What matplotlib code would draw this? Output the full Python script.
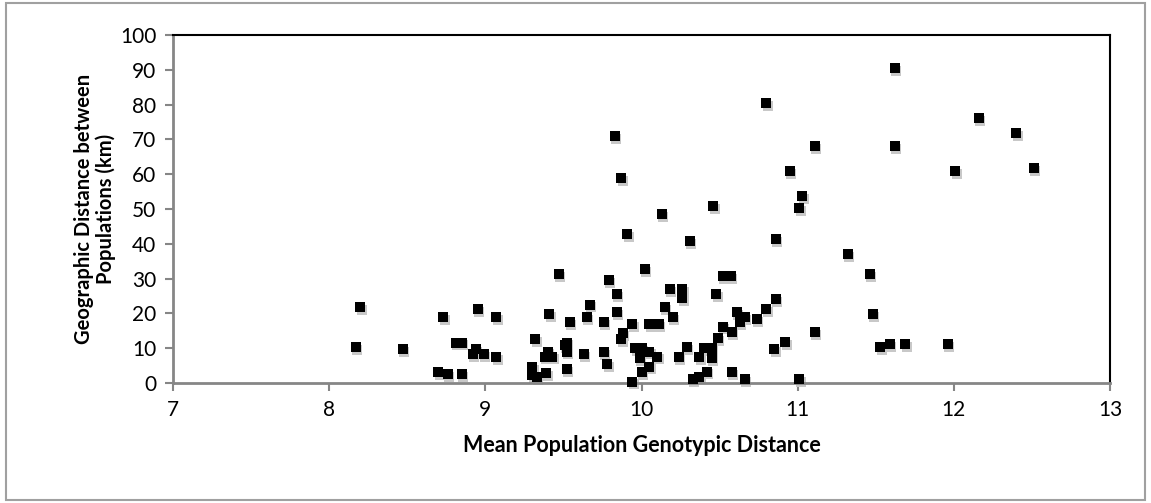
import matplotlib.pyplot as plt
import matplotlib.transforms as mtransforms
from matplotlib.patches import Rectangle

plt.rcParams['font.family'] = ['Lato', 'DejaVu Sans']

# mean population genotypic distance
genotypic = [
    8.17, 8.20, 8.47, 8.70, 8.73, 8.76, 8.81, 8.85, 8.85, 8.92,
    8.94, 8.95, 8.99, 9.07, 9.07, 9.30, 9.30, 9.32, 9.33, 9.38,
    9.39, 9.40, 9.41, 9.43, 9.47, 9.51, 9.52, 9.52, 9.52, 9.54,
    9.63, 9.65, 9.67, 9.76, 9.76, 9.78, 9.79, 9.83, 9.84, 9.84,
    9.87, 9.87, 9.88, 9.91, 9.94, 9.94, 9.96, 9.99, 10.00, 10.00,
    10.02, 10.05, 10.05, 10.05, 10.10, 10.11, 10.13, 10.15, 10.18, 10.20,
    10.24, 10.26, 10.26, 10.29, 10.31, 10.33, 10.37, 10.37, 10.40, 10.42,
    10.45, 10.45, 10.46, 10.48, 10.49, 10.52, 10.52, 10.57, 10.58, 10.58,
    10.61, 10.63, 10.66, 10.66, 10.74, 10.80, 10.80, 10.86, 10.85, 10.86,
    10.92, 10.95, 11.01, 11.01, 11.03, 11.11, 11.11, 11.32, 11.46, 11.48,
    11.53, 11.59, 11.62, 11.62, 11.69, 11.96, 12.01, 12.16, 12.40, 12.51,
]
# geographic distance between populations (km)
geographic = [
    10.3, 21.7, 9.7, 3.1, 18.9, 2.5, 11.6, 11.6, 2.5, 8.3,
    9.7, 21.2, 8.3, 18.9, 7.4, 4.5, 2.2, 12.6, 1.6, 7.6,
    2.8, 9.0, 19.7, 7.6, 31.3, 10.9, 11.6, 9.0, 4.0, 17.4,
    8.3, 19.0, 22.5, 17.4, 8.8, 5.4, 29.6, 71.0, 25.6, 20.3,
    58.8, 12.6, 14.3, 42.8, 16.9, 0.4, 10.0, 7.1, 10.0, 3.2,
    32.8, 9.0, 4.7, 16.9, 7.6, 16.9, 48.6, 21.7, 26.9, 18.9,
    7.4, 26.9, 24.3, 10.2, 40.8, 1.1, 1.8, 7.4, 10.0, 3.3,
    10.0, 7.1, 50.9, 25.6, 12.8, 16.2, 30.7, 30.7, 14.7, 3.2,
    20.4, 17.6, 19.0, 1.1, 18.3, 21.2, 80.4, 24.0, 9.8, 41.3,
    11.8, 60.9, 50.2, 1.1, 53.7, 68.1, 14.6, 37.1, 31.2, 19.7,
    10.4, 11.2, 90.4, 68.1, 11.2, 11.2, 60.9, 76.1, 71.7, 61.8,
]

x_ticks = [7, 8, 9, 10, 11, 12, 13]
y_ticks = [0, 10, 20, 30, 40, 50, 60, 70, 80, 90, 100]

fig = plt.figure(figsize=(11.51, 5.03), dpi=100)
ax = fig.add_axes([0.1503, 0.2386, 0.8141, 0.6918])

# soft drop shadow under the markers, like the original
shadow = mtransforms.offset_copy(ax.transData, fig=fig, x=1.0, y=-2.0, units='points')
ax.scatter(genotypic, geographic, s=55, marker='s', color='#c8c8c8',
           linewidths=0, transform=shadow, zorder=2, clip_on=False)
ax.scatter(genotypic, geographic, s=55, marker='s', color='black',
           linewidths=0, zorder=3, clip_on=False)

ax.set_xlim(7, 13)
ax.set_ylim(0, 100)
ax.set_xticks(x_ticks)
ax.set_yticks(y_ticks)
ax.tick_params(axis='both', direction='out', length=6, width=1.5,
               color='#868686', labelsize=15, pad=6)

for side in ['left', 'bottom']:
    ax.spines[side].set_color('#868686')
    ax.spines[side].set_linewidth(2)
for side in ['top', 'right']:
    ax.spines[side].set_color('black')
    ax.spines[side].set_linewidth(1.5)

ax.set_xlabel('Mean Population Genotypic Distance', fontsize=15.5,
              fontweight='bold', labelpad=11)
ax.set_ylabel('Geographic Distance between\nPopulations (km)', fontsize=14.5,
              fontweight='bold', labelpad=3, linespacing=1.05)

# chart-area border
fig.patches.append(Rectangle((0.005, 0.006), 0.99, 0.988, transform=fig.transFigure,
                             fill=False, edgecolor='#a0a0a0', linewidth=1.5))

fig.savefig('out.png', dpi=100)
